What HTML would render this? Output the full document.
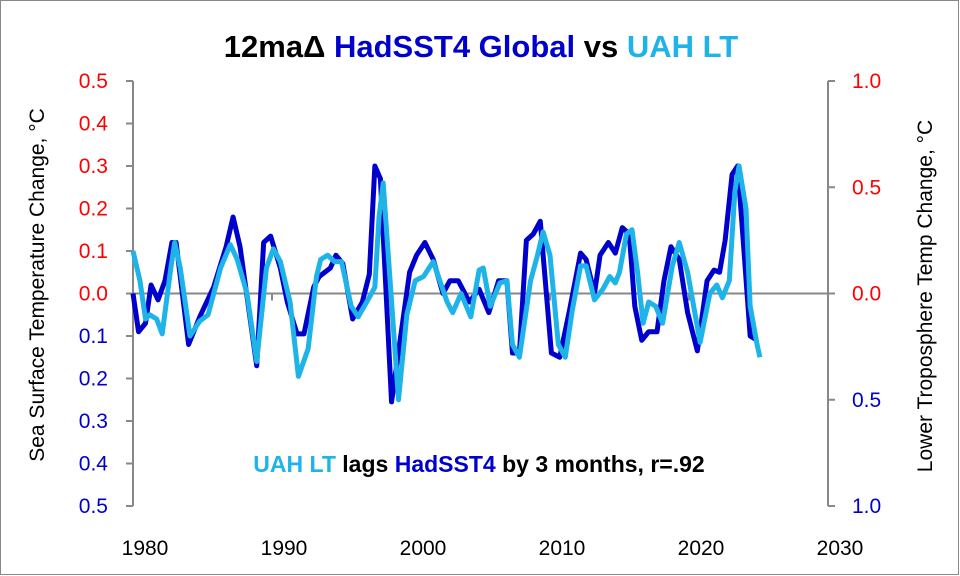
<!DOCTYPE html>
<html><head><meta charset="utf-8"><style>
body{margin:0;background:#fff;font-family:"Liberation Sans",sans-serif}
svg{display:block}
</style></head><body>
<svg id="c" width="960" height="576" viewBox="0 0 960 576" xmlns="http://www.w3.org/2000/svg">
<rect x="0.5" y="0.5" width="958" height="574" fill="#fff" stroke="#888"/>
<text x="481" y="57" text-anchor="middle" font-size="31" font-weight="bold"><tspan fill="#000">12maΔ </tspan><tspan fill="#0000CC">HadSST4 Global</tspan><tspan fill="#000"> vs </tspan><tspan fill="#1EB4E8">UAH LT</tspan></text>
<text transform="translate(44,285) rotate(-90)" text-anchor="middle" font-size="21" fill="#000">Sea Surface Temperature Change, °C</text>
<text transform="translate(932,296) rotate(-90)" text-anchor="middle" font-size="21" fill="#000">Lower Troposphere Temp Change, °C</text>
<g id="axes"></g>
<g id="series"></g>
<text x="479" y="472" text-anchor="middle" font-size="23" font-weight="bold"><tspan fill="#1EB4E8">UAH LT</tspan><tspan fill="#000"> lags </tspan><tspan fill="#0000CC">HadSST4</tspan><tspan fill="#000"> by 3 months, r=.92</tspan></text>
</svg>
<script>
const xTicks=[1980,1990,2000,2010,2020,2030];
const leftTicks=[0.5,0.4,0.3,0.2,0.1,0,-0.1,-0.2,-0.3,-0.4,-0.5];
const rightTicks=[1.0,0.5,0,-0.5,-1.0];
const sstYears=[1980,1980.4,1980.9,1981.3,1981.8,1982.3,1982.8,1983.1,1984.0,1984.8,1985.8,1986.7,1987.2,1987.7,1988.9,1989.4,1989.9,1990.6,1991.1,1991.8,1992.3,1993.0,1993.4,1994.2,1994.6,1995.1,1995.8,1996.5,1997.0,1997.4,1997.8,1998.6,1999.9,2000.4,2001.0,2001.6,2002.3,2002.8,2003.4,2004.2,2004.9,2005.6,2006.3,2006.9,2007.3,2007.8,2008.3,2008.8,2009.3,2010.1,2010.7,2011.4,2012.2,2012.6,2013.2,2013.6,2014.2,2014.7,2015.2,2015.7,2016.1,2016.6,2017.1,2017.7,2018.2,2018.7,2019.3,2019.9,2020.6,2021.3,2021.8,2022.2,2022.6,2023.1,2023.5,2023.9,2024.4,2024.9];
const sstValues=[0,-0.09,-0.07,0.02,-0.015,0.03,0.12,0.12,-0.12,-0.055,0.015,0.11,0.18,0.11,-0.17,0.12,0.135,0.06,-0.02,-0.095,-0.095,0.015,0.04,0.06,0.09,0.07,-0.06,-0.02,0.045,0.30,0.27,-0.255,0.05,0.09,0.12,0.08,0.0,0.03,0.03,-0.02,0.01,-0.045,0.03,0.03,-0.14,-0.14,0.125,0.14,0.17,-0.14,-0.15,-0.04,0.095,0.08,0.0,0.09,0.12,0.095,0.155,0.14,-0.03,-0.11,-0.09,-0.09,0.03,0.11,0.08,-0.045,-0.135,0.03,0.055,0.05,0.125,0.28,0.30,0.125,-0.10,-0.11];
const uahYears=[1980,1980.5,1980.9,1981.2,1981.7,1982.1,1982.7,1983.0,1983.4,1984.1,1984.8,1985.4,1986.3,1987.0,1987.5,1988.2,1988.9,1989.6,1990.1,1990.6,1991.3,1991.9,1992.6,1993.2,1993.5,1994.0,1994.5,1995.0,1995.7,1996.2,1996.9,1997.4,1997.7,1998.0,1999.1,1999.7,2000.3,2000.9,2001.6,2002.6,2003.0,2003.6,2004.3,2004.9,2005.2,2005.7,2006.4,2006.9,2007.3,2007.8,2008.6,2009.1,2009.5,2010.0,2010.6,2011.1,2011.6,2012.2,2012.6,2013.2,2013.8,2014.3,2014.7,2015.0,2015.5,2015.9,2016.3,2016.7,2017.1,2017.6,2018.1,2018.8,2019.3,2019.9,2020.8,2021.5,2022.0,2022.4,2022.9,2023.3,2023.6,2024.1,2024.4,2024.9,2025.1];
const uahValues=[0.20,0.06,-0.12,-0.10,-0.12,-0.19,0.11,0.24,0.12,-0.20,-0.13,-0.10,0.12,0.23,0.16,0.0,-0.32,0.12,0.21,0.15,-0.04,-0.39,-0.26,0.08,0.16,0.18,0.15,0.15,-0.06,-0.11,-0.03,0.03,0.36,0.52,-0.50,-0.10,0.06,0.08,0.15,-0.04,-0.09,0.0,-0.11,0.11,0.12,-0.06,0.05,0.06,-0.24,-0.30,0.06,0.18,0.29,0.18,-0.24,-0.30,-0.08,0.13,0.13,-0.03,0.02,0.08,0.05,0.10,0.28,0.30,0.10,-0.14,-0.04,-0.06,-0.14,0.13,0.24,0.10,-0.23,0.0,0.04,-0.02,0.06,0.48,0.60,0.40,-0.06,-0.24,-0.30];
const X0=133,X1=828,Y0=293.5;
const xs=y=>X0+(y-1980)/50*(X1-X0);
const yl=v=>Y0-v*425;
const yr=v=>Y0-v*212.5;
const NS="http://www.w3.org/2000/svg";
const ax=document.getElementById('axes'),sr=document.getElementById('series');
function mk(tag,attrs,parent){const e=document.createElementNS(NS,tag);for(const k in attrs)e.setAttribute(k,attrs[k]);parent.appendChild(e);return e;}
let e;
e=mk('line',{x1:X0,y1:yl(0.5),x2:X0,y2:yl(-0.5),stroke:'#888','stroke-width':2},ax);


e=mk('line',{x1:X1,y1:yl(0.5),x2:X1,y2:yl(-0.5),stroke:'#888','stroke-width':2},ax);


e=mk('line',{x1:X0,y1:Y0,x2:X1,y2:Y0,stroke:'#888','stroke-width':2},ax);


leftTicks.forEach(v=>{
 mk('line',{x1:X0-7,x2:X0,y1:yl(v),y2:yl(v),stroke:'#888','stroke-width':2},ax);
 e=mk('text',{x:X0-25,y:yl(v)+7,'text-anchor':'end','font-size':21,fill:v<0?'#0000CC':'#FF0000'},ax);
 e.textContent=Math.abs(v).toFixed(1);
 
 
});
rightTicks.forEach(v=>{
 mk('line',{x1:X1,x2:X1+7,y1:yr(v),y2:yr(v),stroke:'#888','stroke-width':2},ax);
 e=mk('text',{x:X1+24,y:yr(v)+7,'text-anchor':'start','font-size':21,fill:v<0?'#0000CC':'#FF0000'},ax);
 e.textContent=Math.abs(v).toFixed(1);
 
 
});
xTicks.forEach(t=>{
 mk('line',{x1:xs(t),x2:xs(t),y1:Y0,y2:Y0+7,stroke:'#888','stroke-width':2},ax);
 e=mk('text',{x:xs(t)+12,y:555,'text-anchor':'middle','font-size':21,fill:'#000'},ax);
 e.textContent=t;
 
 
});
e=mk('polyline',{points:sstYears.map((y,i)=>xs(y)+','+yl(sstValues[i])).join(' '),fill:'none',stroke:'#0000CC','stroke-width':5,'stroke-linejoin':'round'},sr);


e=mk('polyline',{points:uahYears.map((y,i)=>xs(y)+','+yr(uahValues[i])).join(' '),fill:'none',stroke:'#1EB4E8','stroke-width':5,'stroke-linejoin':'round'},sr);


</script>
</body></html>
